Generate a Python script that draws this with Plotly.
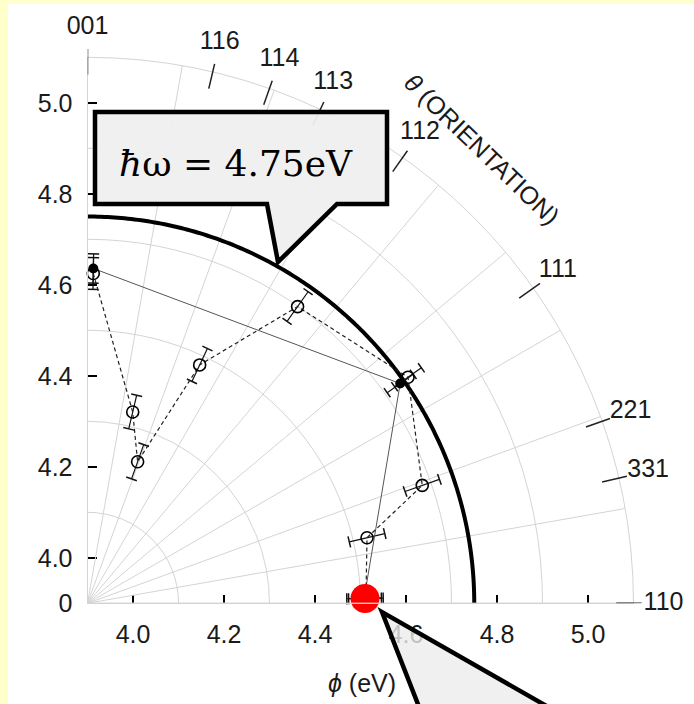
import numpy as np
import plotly.graph_objects as go

# ---------------- data ----------------
orient_labels = ["001", "116", "114", "113", "112", "111", "221", "331", "110"]
orient_theta = [90.0, 76.74, 70.53, 64.76, 54.74, 35.26, 19.47, 13.26, 0.0]

# open circles, dashed line
open_theta = [89.0, 76.7, 70.5, 64.8, 54.7, 35.2, 19.4, 13.2, 1.0]
open_r = [4.625, 4.332, 4.230, 4.479, 4.699, 4.762, 4.680, 4.531, 4.512]
open_err = [0.035, 0.038, 0.040, 0.040, 0.040, 0.036, 0.040, 0.040, 0.038]

# filled circles, solid line
fill_theta = [89.0, 35.1, 1.0]
fill_r = [4.636, 4.740, 4.508]
fill_err = [0.032, 0.035, 0.038]

photon_energy = 4.75
highlight_r = [4.51]
highlight_theta = [1.0]

r_tick_vals = [4.0, 4.2, 4.4, 4.6, 4.8, 5.0]
r_tick_text = ["4.0", "4.2", "4.4", "4.6", "4.8", "5.0"]
y_tick_vals = [3.9, 4.0, 4.2, 4.4, 4.6, 4.8, 5.0]
y_tick_text = ["0", "4.0", "4.2", "4.4", "4.6", "4.8", "5.0"]
r_grid = [4.1, 4.3, 4.5, 4.7, 4.9]
r_range = [3.9, 5.1]
r_range_outer = [3.9, 5.2]
label_r = 5.166
tick_r = [5.062, 5.118]

# ---------------- geometry ----------------
W, H = 694, 704
OX, OY, R = 87.5, 603.3, 546.0
SCALE = R / (r_range[1] - r_range[0])
R2 = SCALE * (r_range_outer[1] - r_range_outer[0])


def px(x):
    return x / W


def py(y):
    return 1 - y / H


dom_x = [px(OX), px(OX + R)]
dom_y = [py(OY), py(OY - R)]
dom2_x = [px(OX), px(OX + R2)]
dom2_y = [py(OY), py(OY - R2)]

FONT = "Arial, Liberation Sans, sans-serif"
TXT = "#1a1a1a"

fig = go.Figure()


def errbars(r, th, e):
    rr, tt, cr, ct, ca = [], [], [], [], []
    for ri, ti, ei in zip(r, th, e):
        rr += [ri - ei, ri + ei, None]
        tt += [ti, ti, None]
        cr += [ri - ei, ri + ei]
        ct += [ti, ti]
        ca += [90 - ti, 90 - ti]
    fig.add_trace(go.Scatterpolar(r=rr, theta=tt, mode="lines",
                                  line=dict(color="#111", width=1.2),
                                  cliponaxis=False, showlegend=False, hoverinfo="skip"))
    fig.add_trace(go.Scatterpolar(r=cr, theta=ct, mode="markers",
                                  marker=dict(symbol="line-ew", size=8, angle=ca,
                                              line=dict(color="#111", width=1.5)),
                                  cliponaxis=False, showlegend=False, hoverinfo="skip"))


# reference circle at photon energy
arc_theta = np.linspace(0, 90, 181)
fig.add_trace(go.Scatterpolar(r=[photon_energy] * len(arc_theta), theta=arc_theta,
                              mode="lines", line=dict(color="black", width=4),
                              cliponaxis=False, showlegend=False, hoverinfo="skip"))

# orientation ticks (on outer polar) and labels
tr, tt = [], []
for t in orient_theta:
    tr += [tick_r[0], tick_r[1], None]
    tt += [t, t, None]
fig.add_trace(go.Scatterpolar(r=tr, theta=tt, mode="lines", subplot="polar2",
                              line=dict(color="#222", width=1.5),
                              cliponaxis=False, showlegend=False, hoverinfo="skip"))
fig.add_trace(go.Scatterpolar(r=[label_r] * len(orient_theta), theta=orient_theta,
                              mode="text", text=orient_labels, subplot="polar2",
                              textfont=dict(family=FONT, size=25, color=TXT),
                              textposition="middle center",
                              cliponaxis=False, showlegend=False, hoverinfo="skip"))

# error bars
errbars(fill_r, fill_theta, fill_err)
errbars(open_r, open_theta, open_err)

# solid series
fig.add_trace(go.Scatterpolar(r=fill_r, theta=fill_theta, mode="lines+markers",
                              line=dict(color="#555", width=1),
                              marker=dict(symbol="circle", size=10, color="black"),
                              cliponaxis=False, showlegend=False))
# dashed series
fig.add_trace(go.Scatterpolar(r=open_r, theta=open_theta, mode="lines+markers",
                              line=dict(color="#222", width=1.2, dash="4px,3px"),
                              marker=dict(symbol="circle-open", size=12, color="black",
                                          line=dict(width=1.6, color="black")),
                              cliponaxis=False, showlegend=False))

# red highlight
fig.add_trace(go.Scatterpolar(r=highlight_r, theta=highlight_theta, mode="markers",
                              marker=dict(size=29, color="#FF0000"),
                              cliponaxis=False, showlegend=False))

# dummy cartesian trace to carry the straight axes
fig.add_trace(go.Scatter(x=[None], y=[None], mode="markers", showlegend=False,
                         hoverinfo="skip"))

hidden_ax = dict(visible=False, showgrid=False, showline=False, showticklabels=False, ticks="")

fig.update_layout(
    width=W, height=H,
    margin=dict(l=0, r=0, t=0, b=0),
    paper_bgcolor="white", plot_bgcolor="rgba(0,0,0,0)",
    showlegend=False,
    polar=dict(
        domain=dict(x=dom_x, y=dom_y),
        sector=[0, 90],
        bgcolor="rgba(0,0,0,0)",
        radialaxis=dict(range=r_range, tickvals=r_grid, showticklabels=False,
                        ticks="", showgrid=True, gridcolor="#d4d4d4", gridwidth=1,
                        showline=True, linecolor="#d4d4d4", linewidth=1, angle=0),
        angularaxis=dict(rotation=0, direction="counterclockwise", thetaunit="degrees",
                         tickmode="linear", tick0=0, dtick=10, showticklabels=False,
                         ticks="", showgrid=True, gridcolor="#d4d4d4", gridwidth=1,
                         showline=True, linecolor="#d4d4d4", linewidth=1),
    ),
    polar2=dict(
        domain=dict(x=dom2_x, y=dom2_y),
        sector=[0, 90],
        bgcolor="rgba(0,0,0,0)",
        radialaxis=dict(range=r_range_outer, **hidden_ax),
        angularaxis=dict(rotation=0, direction="counterclockwise", thetaunit="degrees",
                         **hidden_ax),
    ),
    xaxis=dict(domain=dom_x, range=r_range, tickvals=r_tick_vals, ticktext=r_tick_text,
               ticks="inside", ticklen=8, tickwidth=2, tickcolor="black",
               showline=False, showgrid=False, zeroline=False, automargin=False,
               ticklabelstandoff=14,
               tickfont=dict(family=FONT, size=25, color=TXT), anchor="y"),
    yaxis=dict(domain=dom_y, range=r_range, tickvals=y_tick_vals, ticktext=y_tick_text,
               ticks="inside", ticklen=9, tickwidth=2, tickcolor="black",
               showline=False, showgrid=False, zeroline=False, automargin=False,
               ticklabelstandoff=14,
               tickfont=dict(family=FONT, size=25, color=TXT), anchor="x"),
)

shapes = []
# yellow page border
shapes.append(dict(type="rect", xref="paper", yref="paper", x0=0, x1=px(8), y0=0, y1=1,
                   fillcolor="#FFFFCC", line=dict(width=0), layer="above"))
shapes.append(dict(type="rect", xref="paper", yref="paper", x0=0, x1=1, y0=py(4), y1=1,
                   fillcolor="#FFFFCC", line=dict(width=0), layer="above"))
# callout box with tail
pts = [(95, 112), (387, 112), (387, 204), (337, 204), (278, 262), (267, 204), (95, 204)]
path = "M " + " L ".join(f"{px(x):.5f},{py(y):.5f}" for x, y in pts) + " Z"
shapes.append(dict(type="path", xref="paper", yref="paper", path=path,
                   fillcolor="rgba(239,239,239,0.95)", line=dict(color="black", width=4.5),
                   layer="above"))
# bottom callout pointer
pts2 = [(382, 612), (421, 712), (557, 712)]
path2 = "M " + " L ".join(f"{px(x):.5f},{py(y):.5f}" for x, y in pts2) + " Z"
shapes.append(dict(type="path", xref="paper", yref="paper", path=path2,
                   fillcolor="rgba(236,236,236,0.8)", line=dict(color="black", width=4.5),
                   layer="above"))
fig.update_layout(shapes=shapes)

fig.add_annotation(xref="paper", yref="paper", x=px(236), y=py(164),
                   xanchor="center", yanchor="middle",
                   text="<i>ħ</i>ω = 4.75eV", showarrow=False,
                   font=dict(family="DejaVu Serif, serif", size=36, color="black"))
fig.add_annotation(xref="paper", yref="paper", x=px(482), y=py(149),
                   xanchor="center", yanchor="middle",
                   text="<i>θ</i> (ORIENTATION)", showarrow=False, textangle=44,
                   font=dict(family=FONT, size=25, color=TXT))
fig.add_annotation(xref="paper", yref="paper", x=px(362), y=py(683),
                   xanchor="center", yanchor="middle",
                   text="<i>ϕ</i> (eV)", showarrow=False,
                   font=dict(family=FONT, size=25, color=TXT))

fig.write_html("out.html")
